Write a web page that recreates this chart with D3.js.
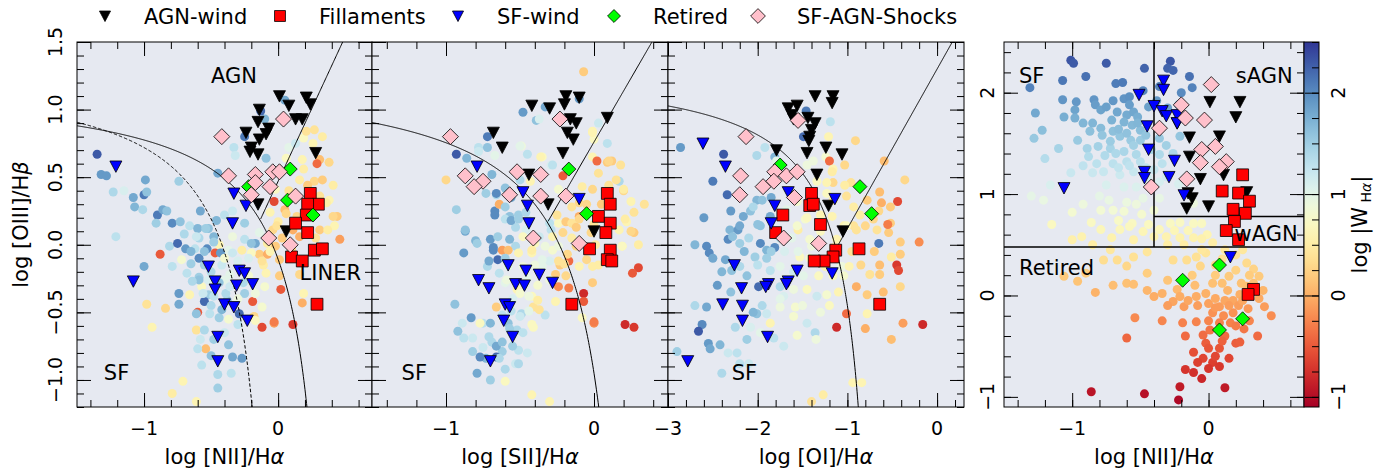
<!DOCTYPE html>
<html>
<head>
<meta charset="utf-8">
<script src="https://cdn.jsdelivr.net/npm/d3@7"></script>
<style>
  body { margin: 0; background: #ffffff; }
  svg text { font-family: "DejaVu Sans", sans-serif; fill: #000; }
</style>
</head>
<body>
<div id="chart"></div>
<script>
// ---- data: [x, y, log W_Ha] for the background spaxels ----
const niiCircles = [
  [-1.35,0.67,2.3],[-1.32,0.52,1.9],[-1.28,0.51,1.9],[-1.23,0.39,1.4],[-1.15,0.40,1.1],
  [-1.08,0.35,1.8],[-1.00,0.37,2.1],[-0.99,0.48,1.8],[-0.98,0.39,1.6],[-1.07,0.28,1.7],
  [-1.01,0.26,1.4],[-0.90,0.22,2.1],[-0.86,0.26,1.8],[-0.83,0.25,1.6],[-0.74,0.47,1.5],
  [-0.58,0.25,1.8],[-0.45,0.53,1.8],[-0.91,0.16,1.5],[-0.79,0.16,2.0],[-0.73,0.17,1.6],
  [-0.66,0.14,1.3],[-0.60,0.12,1.7],[-0.52,0.12,1.6],[-0.44,0.00,0.6],[-0.34,0.25,1.2],
  [-0.25,0.16,1.5],[-0.33,0.72,1.3],[-0.32,0.66,1.2],[-0.10,0.93,1.7],[-0.09,0.64,1.6],
  [-0.13,0.99,2.2],[0.05,1.07,1.8],[-0.25,0.80,2.1],[0.08,0.72,1.0],[0.13,0.75,1.2],
  [0.19,0.79,0.7],[0.21,0.84,0.4],[0.27,0.85,0.4],[0.33,0.80,0.5],[0.26,0.75,0.6],
  [0.31,0.63,0.1],[0.29,0.60,-0.4],[0.38,0.61,0.3],[0.06,0.64,0.7],[0.19,0.56,0.5],
  [0.27,0.47,0.3],[0.33,0.48,0.2],[0.41,0.44,0.5],[0.31,0.36,0.4],[0.38,0.33,0.6],
  [0.44,0.21,0.2],[0.42,0.14,0.6],[0.46,0.04,-0.1],[-0.03,0.32,-0.6],[0.05,0.26,0.1],
  [0.14,0.21,0.3],[0.00,0.17,0.5],[-0.04,0.11,0.3],[0.03,0.05,0.2],[0.11,0.11,0.0],
  [0.31,0.11,0.2],[0.28,0.05,0.4],[-0.14,0.09,1.0],[-0.08,0.01,0.5],[0.16,0.48,0.5],
  [-0.02,0.41,0.7],[0.06,0.23,0.3],[0.36,0.31,0.5],[0.41,0.21,0.3],[0.37,0.11,0.5],
  [0.16,0.06,0.0],[-0.01,0.14,0.4],[-0.02,-0.01,0.2],[0.01,-0.11,0.2],[0.16,-0.22,0.3],
  [0.19,-0.36,0.6],[0.18,0.63,0.6],[-1.21,0.06,1.3],[-0.88,-0.07,-0.5],[-0.81,-0.01,1.4],
  [-0.75,0.01,2.2],[-0.69,-0.03,1.9],[-0.59,0.05,1.4],[-0.53,-0.03,2.0],[-0.37,-0.04,1.0],
  [-0.17,0.01,1.8],[-0.14,-0.07,0.2],[-0.08,-0.07,0.0],[-1.00,-0.16,1.8],[-0.79,-0.16,1.3],
  [-0.72,-0.11,0.8],[-0.65,-0.14,1.5],[-0.59,-0.10,2.0],[-0.47,-0.06,-0.5],[-0.68,-0.21,1.3],
  [-0.59,-0.24,1.5],[-0.57,-0.31,0.7],[-0.74,-0.36,1.9],[-0.66,-0.37,0.6],[-0.52,-0.37,1.5],
  [-0.98,-0.44,0.4],[-0.84,-0.47,0.3],[-0.60,-0.50,-0.5],[-0.74,-0.44,1.8],[-0.55,-0.42,2.2],
  [-0.50,-0.45,1.4],[-0.38,-0.41,1.6],[-0.29,-0.51,2.2],[-0.19,-0.42,-0.5],[-0.18,-0.53,0.3],
  [-0.12,-0.61,-0.6],[-0.03,-0.58,-0.1],[-0.12,-0.46,0.8],[0.11,-0.59,-0.7],[0.18,-0.43,0.0],
  [-0.94,-0.61,0.6],[-0.61,-0.63,0.4],[-0.55,-0.63,1.4],[-0.58,-0.70,1.2],[-0.54,-0.77,0.1],
  [-0.60,-0.77,1.3],[-0.37,-0.74,1.6],[-0.34,-0.83,1.8],[-0.27,-0.84,1.9],[-0.57,-0.89,1.3],
  [-0.45,-0.96,1.4],[-0.71,-1.01,0.6],[-0.79,-1.10,0.5],[-0.61,-1.16,0.6],[-0.43,-0.06,1.9],
  [-0.54,0.12,1.5],[-0.61,0.06,1.2],[-0.48,0.06,1.7],[-0.34,0.06,0.9],[-0.25,0.04,1.3],
  [-0.20,0.01,1.6],[-0.34,-0.06,1.2],[-0.27,-0.04,0.5],[-0.20,-0.06,0.7],[-0.06,-0.05,0.6],
  [-0.09,-0.21,0.6],[-0.11,-0.15,0.5],[0.01,-0.23,0.2],[0.02,-0.33,-0.5],[-0.59,-0.26,1.6],
  [-0.52,-0.26,1.1],[-0.56,-0.36,1.2],[-0.39,-0.36,1.4],[-0.25,-0.36,1.5],[-0.17,-0.36,0.9],
  [-0.61,-0.51,1.6],[-0.51,-0.51,1.3],[-0.44,-0.54,1.5],[-0.37,-0.55,0.8],[-0.30,-0.59,1.3],
  [-0.17,-0.56,0.7],[-0.03,-0.57,-0.3],[-0.10,-0.31,0.8],[-0.22,-0.23,0.8],[-0.12,-0.12,0.4],
  [-0.40,-0.26,1.0],[-0.64,-0.27,1.4],[-0.50,-0.20,1.4],[-0.42,-0.15,1.2],[-0.36,-0.22,1.0],
  [-0.44,-0.28,1.6],[-0.40,-0.10,0.8],[-0.30,-0.12,1.1],[-0.55,-0.05,1.6],[-0.62,-0.03,1.3],
  [-0.48,0.02,1.5],[-0.55,-0.15,1.5],[-0.48,-0.38,1.3],[-0.42,-0.48,1.7],[-0.36,-0.31,1.2],
  [-0.30,-0.40,0.9],[-0.26,-0.28,1.4],[-0.22,-0.10,1.1],[-0.65,-0.05,1.7],[-0.70,0.08,1.4],
  [-0.46,0.18,1.7],[-0.40,0.22,1.3],[-0.48,-0.70,1.5],[-0.40,-0.65,1.2],[-0.50,-0.82,1.6],
  [-0.35,-0.95,1.3],[-0.45,-1.06,1.5],[0.08,0.40,0.4],[0.22,0.44,0.2],[0.10,-0.03,0.3],
  [-0.06,0.24,0.6]
];

const siiCircles = [
  [-0.07,1.28,0.2],[-0.48,0.98,1.9],[-0.39,0.92,1.6],[-0.37,0.93,1.1],[-0.33,1.02,1.8],
  [-0.10,1.08,1.9],[0.03,0.90,1.2],[-0.01,0.84,0.6],[0.00,0.78,0.7],[0.09,0.75,1.3],
  [-0.01,0.65,0.6],[0.02,0.62,-0.4],[0.09,0.61,0.2],[0.12,0.62,0.2],[0.03,0.53,0.4],
  [0.17,0.47,1.4],[0.20,0.40,0.3],[0.25,0.32,0.6],[0.34,0.30,0.4],[0.27,0.24,0.4],
  [0.22,0.17,0.6],[0.27,0.09,0.2],[0.19,-0.01,0.6],[0.03,-0.15,0.5],[0.30,-0.17,-0.6],
  [0.26,-0.21,-0.5],[-0.12,-0.01,0.3],[-0.17,-0.12,-0.4],[-0.23,-0.15,0.2],[-0.07,-0.36,-0.8],
  [-0.07,-0.42,-0.5],[-0.17,-0.32,-0.3],[-0.24,-0.31,-0.2],[-0.26,-0.42,0.6],[0.00,-0.58,-0.2],
  [-0.08,-0.54,0.7],[0.21,-0.59,-0.8],[0.27,-0.61,-0.7],[-1.00,0.48,0.3],[-0.93,0.26,1.5],
  [-0.87,0.10,1.8],[-0.88,-0.06,1.9],[-0.93,0.67,2.3],[-0.72,0.80,2.1],[-0.86,0.64,1.7],
  [-0.78,0.72,1.3],[-0.66,0.37,1.4],[-0.73,0.38,1.5],[-0.67,0.25,2.0],[-0.80,0.03,1.7],
  [-0.70,0.04,1.9],[-0.68,-0.04,2.0],[-0.72,-0.16,1.4],[-0.65,-0.11,2.2],[-0.94,-0.44,1.6],
  [-0.83,-0.54,1.9],[-0.89,-0.58,1.2],[-0.82,-0.69,1.2],[-0.75,-0.58,1.3],[-0.77,-0.58,0.7],
  [-0.79,-0.95,1.8],[-0.60,-1.01,0.7],[-0.42,-1.11,0.6],[-0.30,-1.16,0.6],[-0.69,-0.72,1.4],
  [-0.62,-0.79,1.5],[-0.52,-0.63,1.4],[-0.51,-0.78,1.3],[-0.53,-0.88,1.2],[-0.73,-0.84,1.7],
  [-0.66,-0.83,2.2],[-0.41,-0.61,0.7],[-0.33,-0.52,1.3],[-0.30,-0.12,1.1],[-0.35,-0.11,1.0],
  [-0.28,-0.04,0.8],[-0.29,0.11,1.3],[-0.24,0.16,0.7],[-0.21,0.09,0.3],[-0.19,0.17,0.2],
  [-0.15,0.16,0.4],[-0.10,0.21,0.0],[-0.12,0.13,0.2],[-0.21,0.51,-0.5],[-0.24,0.41,0.8],
  [-0.10,0.31,0.3],[-0.35,0.65,0.7],[-0.29,0.59,1.1],[-0.49,0.73,0.9],[-0.43,0.47,0.6],
  [-0.50,0.48,1.4],[-0.60,0.42,1.6],[-0.56,0.35,1.8],[-0.64,0.30,0.0],[-0.57,0.21,1.6],
  [-0.51,0.22,1.5],[-0.53,0.13,1.4],[-0.46,0.11,1.1],[-0.44,0.18,1.2],[-0.40,0.01,0.7],
  [-0.42,-0.06,0.6],[-0.33,-0.01,0.9],[-0.53,-0.01,1.4],[-0.62,-0.04,-0.1],[-0.58,-0.16,1.0],
  [-0.48,-0.16,0.9],[-0.60,-0.28,1.0],[-0.52,-0.33,0.6],[-0.42,-0.38,0.7],[-0.38,-0.30,0.8],
  [-0.66,-0.46,0.2],[-0.56,-0.49,1.3],[-0.49,-0.51,1.4],[-0.58,-0.58,1.6],[-0.41,-0.46,0.4],
  [-0.01,0.83,0.6],[0.10,0.62,0.3],[0.18,0.59,0.4],[0.15,0.48,0.4],[0.20,0.41,0.5],
  [-0.01,0.41,0.3],[-0.08,0.43,0.5],[-0.15,0.28,0.4],[-0.10,0.19,0.3],[-0.02,0.09,0.3],
  [0.01,0.00,0.5],[0.17,0.11,0.6],[0.21,0.19,0.5],[0.19,-0.01,0.7],[-0.18,-0.07,0.3],
  [-0.24,-0.12,0.4],[-0.20,-0.14,0.4],[-0.26,-0.22,0.2],[-0.19,-0.23,0.3],[-0.10,-0.16,0.6],
  [-0.01,-0.16,0.5],[-0.05,-0.11,0.3],[-0.01,-0.28,0.2],[0.00,-0.57,-0.3],[-0.30,-0.26,0.9],
  [-0.35,-0.16,1.0],[-0.42,-0.04,0.5],[-0.37,0.06,1.2],[-0.28,0.06,0.6],[-0.24,-0.01,0.9],
  [-0.48,0.06,0.7],[-0.51,-0.06,0.6],[-0.57,0.04,1.7],[-0.65,0.06,1.5],[-0.68,-0.02,2.0],
  [-0.58,-0.04,0.1],[-0.71,-0.12,1.8],[-0.64,-0.21,1.3],[-0.59,-0.26,0.9],[-0.50,-0.36,0.8],
  [-0.44,-0.38,0.9],[-0.38,-0.41,0.5],[-0.37,-0.48,0.4],[-0.44,-0.49,1.0],[-0.50,-0.53,1.2],
  [-0.57,-0.62,1.5],[-0.48,-0.65,1.3],[-0.42,-0.59,0.7],[-0.71,-0.68,1.4],[-0.66,-0.75,1.8],
  [-0.62,-0.72,1.6],[-0.75,-0.76,1.2],[-0.82,-0.79,1.5],[-0.77,-0.83,2.0],[-0.64,-0.84,1.4],
  [-0.51,-0.88,1.4],[-0.88,-0.69,1.3],[-0.92,-0.64,1.6],[-0.78,0.69,1.2],[-0.72,0.72,1.6],
  [-0.67,0.66,1.0],[-0.50,0.73,1.0],[-0.45,0.67,1.3],[-0.36,0.65,0.6],[-0.28,0.59,1.3],
  [-0.69,0.52,1.7],[-0.66,0.38,2.0],[-0.60,0.28,1.5],[-0.67,0.22,2.0],[-0.60,0.19,1.3],
  [-0.56,0.18,1.8],[-0.51,0.19,1.5],[-0.46,0.24,1.4],[-0.25,0.22,0.4],[-0.30,0.16,1.3],
  [-0.87,0.11,1.6],[-0.79,0.01,1.5],[-0.55,-0.40,1.1],[-0.60,-0.10,1.5],[-0.45,-0.25,1.0],
  [-0.40,-0.15,0.9],[-0.62,-0.52,1.3],[-0.70,-0.58,1.7],[-0.55,-0.75,1.5],[-0.45,-0.80,1.2],
  [-0.60,-0.92,1.4],[-0.70,-1.00,1.5],[-0.05,0.30,0.3],[0.05,0.30,0.2],[0.10,0.44,0.4],
  [0.25,0.10,0.3],[0.30,0.00,0.5],[0.00,0.15,0.4],[-0.15,0.05,0.5]
];

const oiCircles = [
  [-2.86,0.72,1.9],[-2.38,0.67,2.3],[-2.50,0.47,2.1],[-2.34,0.37,2.2],[-2.01,0.66,1.4],
  [-1.92,0.72,1.3],[-1.81,0.65,1.7],[-1.79,0.62,1.0],[-1.46,0.99,2.1],[-1.19,0.91,1.3],
  [-1.49,0.80,2.2],[-1.21,0.80,0.6],[-0.91,0.77,0.3],[-1.24,0.65,0.8],[-1.20,0.62,-0.4],
  [-1.03,0.59,0.3],[-1.16,0.56,0.6],[-1.34,0.47,0.7],[-1.16,0.46,0.3],[-0.96,0.46,0.4],
  [-0.59,0.62,0.1],[-0.36,0.48,0.3],[-0.44,0.32,-0.6],[-0.64,0.39,0.1],[-0.62,0.31,0.0],
  [-0.52,0.28,0.2],[-0.78,0.33,0.2],[-0.65,0.25,0.3],[-0.86,0.22,0.5],[-0.71,0.19,0.3],
  [-0.52,0.16,0.2],[-0.67,0.11,0.4],[-0.54,0.09,0.2],[-0.93,0.14,0.4],[-1.04,0.14,0.6],
  [-0.65,0.01,2.1],[-0.41,0.02,0.2],[-0.20,0.02,-0.2],[-0.51,-0.09,0.5],[-0.41,-0.07,0.2],
  [-0.45,-0.15,-0.7],[-0.43,-0.19,-0.6],[-0.64,-0.15,0.1],[-0.75,-0.22,0.4],[-0.64,-0.22,0.2],
  [-0.41,-0.31,0.3],[-0.90,-0.31,0.0],[-0.78,-0.37,0.2],[-0.78,-0.51,0.6],[-1.01,-0.51,-0.4],
  [-0.38,-0.58,-0.1],[-0.16,-0.59,-0.8],[-1.12,-0.61,-0.8],[-0.80,-0.62,0.0],[-0.51,-0.70,0.1],
  [-0.84,-1.02,0.6],[-0.94,-1.02,0.6],[-1.27,-1.11,0.5],[-1.40,-1.16,0.4],[-1.56,-0.67,0.8],
  [-1.36,-0.65,1.4],[-1.45,-0.58,1.2],[-1.60,-0.53,0.8],[-1.16,-0.23,0.7],[-1.04,-0.23,0.8],
  [-1.25,-0.16,0.6],[-1.08,-0.16,1.0],[-1.21,-0.10,0.5],[-1.42,-0.10,0.8],[-1.53,-0.09,0.7],
  [-1.40,-0.01,0.9],[-1.55,0.11,0.5],[-1.47,0.19,0.8],[-1.30,0.22,0.6],[-1.42,0.33,0.9],
  [-1.16,0.33,0.5],[-1.23,0.38,0.7],[-1.56,0.32,0.8],[-1.68,0.26,1.0],[-2.01,0.33,1.7],
  [-2.08,0.25,1.6],[-2.16,0.21,1.8],[-2.31,0.11,1.7],[-2.22,0.11,1.9],[-2.33,0.04,2.0],
  [-2.20,0.01,1.5],[-1.97,0.14,1.6],[-1.86,0.21,1.8],[-1.97,0.01,2.0],[-1.90,-0.04,1.7],
  [-2.03,-0.09,1.5],[-1.81,-0.02,2.0],[-2.57,-0.01,2.0],[-2.54,-0.06,2.0],[-2.36,-0.11,1.8],
  [-2.29,-0.19,1.6],[-2.20,-0.16,1.4],[-2.12,-0.23,1.6],[-1.99,-0.31,2.2],[-1.86,-0.19,1.3],
  [-1.75,-0.16,1.0],[-1.75,-0.31,1.4],[-2.70,-0.45,1.4],[-2.57,-0.46,1.8],[-2.62,-0.59,2.0],
  [-2.66,-0.64,2.3],[-2.55,-0.73,1.9],[-2.42,-0.74,1.7],[-2.53,-0.77,1.8],[-2.90,-0.79,1.5],
  [-2.40,-0.95,1.4],[-2.33,-0.80,1.2],[-2.23,-0.80,1.3],[-2.12,-0.70,1.5],[-2.25,-0.61,1.4],
  [-2.08,-0.61,1.1],[-1.86,-0.58,0.6],[-1.97,-0.65,1.0],[-1.82,-0.69,1.3],[-1.71,-0.75,1.2],
  [-2.20,-0.88,1.3],[-2.10,-0.88,1.2],[-2.01,-0.51,1.6],[-1.90,-0.51,1.2],[-1.75,-0.46,0.9],
  [-1.58,-0.46,0.8],[-1.71,-0.38,1.1],[-1.60,-0.33,0.9],[-1.45,-0.33,0.7],[-1.34,-0.38,1.2],
  [-1.23,-0.37,0.8],[-1.49,-0.23,1.0],[-1.32,-0.23,0.7],[-2.05,0.28,1.4],[-1.95,0.33,1.6],
  [-1.45,0.59,0.9],[-1.38,0.62,0.9],[-1.17,0.54,0.5],[-1.23,0.46,0.6],[-1.03,0.44,0.5],
  [-1.01,0.36,0.4],[-0.93,0.28,0.5],[-1.17,0.21,0.6],[-1.45,0.20,0.7],[-1.56,0.14,0.8],
  [-1.01,0.14,0.7],[-0.90,0.11,0.4],[-0.80,0.14,0.3],[-1.42,0.04,0.8],[-1.12,0.04,0.6],
  [-1.06,-0.16,0.9],[-0.98,-0.16,0.6],[-2.20,0.14,1.8],[-2.28,0.06,1.6],[-2.10,0.05,1.4],
  [-2.00,-0.15,1.3],[-1.90,-0.10,1.5],[-1.70,-0.05,1.1],[-1.62,0.05,1.0],[-1.60,-0.20,1.2],
  [-1.75,-0.40,1.0],[-1.50,-0.45,0.9],[-1.95,-0.45,1.4],[-2.05,-0.50,1.7],[-2.30,-0.35,1.6],
  [-2.45,-0.30,1.9],[-2.40,-0.20,1.7],[-2.50,-0.10,1.8],[-1.30,-0.50,0.9],[-1.20,-0.45,0.7],
  [-1.10,-0.35,0.6],[-1.35,-0.70,0.9],[-1.85,-0.05,1.5],[-2.15,-0.05,1.7],[-2.00,0.15,1.6],
  [-1.75,0.05,1.3],[-1.85,0.35,1.8],[-2.30,0.25,1.9],[-2.60,0.20,1.9],[-2.70,0.00,1.7],
  [-1.15,-0.02,0.5],[-0.95,-0.05,0.4],[-0.85,-0.15,0.3],[-0.70,-0.05,0.2],[-0.60,-0.35,0.1],
  [-0.55,0.15,-0.3],[-1.30,0.10,0.7],[-1.55,-0.05,1.0]
];

// WHAN panel: [log NII/Ha, log W_Ha]; the colour is W_Ha itself
const whanCircles = [
  [-1.01,2.32],[-0.99,2.29],[-0.75,2.29],[-1.31,2.05],[-1.07,2.12],[-0.90,2.16],[-0.68,2.09],
  [-0.63,2.10],[-0.47,2.24],[-0.28,2.31],[-0.30,2.24],[-0.26,2.22],[-0.14,2.16],[-1.07,1.93],
  [-0.97,1.91],[-0.84,1.93],[-0.62,1.94],[-0.58,1.96],[-0.20,2.00],[-1.27,1.80],[-1.06,1.76],
  [-0.98,1.83],[-0.83,1.88],[-0.79,1.83],[-0.75,1.86],[-0.67,1.81],[-0.60,1.78],[-0.55,1.81],
  [-0.52,1.76],[-1.22,1.63],[-0.98,1.75],[-0.79,1.65],[-0.71,1.73],[-0.62,1.71],[-0.56,1.68],
  [-0.50,1.63],[-0.70,1.62],[-0.96,1.53],[-0.87,1.62],[-0.65,1.57],[-0.57,1.53],[-0.50,1.53],
  [-0.55,1.48],[-0.36,1.55],[-0.31,1.48],[-0.21,1.57],[-0.89,1.45],[-0.81,1.47],[-0.72,1.45],
  [-0.62,1.42],[-0.53,1.39],[-0.42,1.44],[-0.36,1.39],[-0.26,1.40],[-1.20,1.35],[-0.88,1.37],
  [-0.76,1.38],[-0.70,1.30],[-0.60,1.32],[-0.34,1.30],[-0.40,1.24],[-1.01,1.21],[-0.85,1.21],
  [-0.77,1.22],[-0.65,1.19],[-0.55,1.22],[-0.45,1.17],[-0.31,1.17],[-1.16,1.09],[-1.05,1.10],
  [-0.75,1.09],[-0.62,1.07],[-0.53,1.07],[-0.36,1.12],[-0.22,1.10],[-1.21,0.94],[-0.80,0.98],
  [-0.73,0.94],[-0.60,0.92],[-0.48,0.96],[-0.53,0.90],[-0.36,0.96],[-0.11,0.91],[-0.79,0.84],
  [-0.70,0.84],[-0.62,0.83],[-0.49,0.80],[-0.40,0.84],[-0.56,0.71],[-0.28,0.71],[-0.21,0.72],
  [-0.11,0.71],[-0.05,0.71],[-0.79,0.65],[-0.71,0.57],[-0.65,0.65],[-0.93,0.58],[-0.58,0.68],
  [-0.48,0.63],[-0.36,0.65],[-0.31,0.58],[-0.21,0.57],[-0.11,0.57],[-0.01,0.60],[0.03,0.52],
  [-0.72,0.45],[-0.77,0.35],[-0.67,0.35],[-0.55,0.38],[-0.60,0.29],[-0.45,0.43],[-0.26,0.35],
  [-0.16,0.35],[-0.09,0.38],[-0.02,0.42],[-0.06,0.29],[-1.06,0.19],[-0.96,0.14],[-0.83,0.03],
  [-0.60,0.12],[-0.55,0.11],[-0.40,-0.01],[-0.34,0.02],[-0.23,0.06],[-0.21,-0.01],[-0.09,-0.01],
  [-0.02,0.02],[0.03,0.12],[0.15,0.19],[0.28,0.32],[0.33,0.26],[0.37,0.19],[0.28,0.09],
  [0.23,0.01],[0.18,-0.05],[0.08,-0.11],[0.00,-0.08],[0.03,-0.17],[0.11,-0.20],[0.18,-0.17],
  [0.16,-0.27],[0.08,-0.27],[0.01,-0.34],[-0.04,-0.39],[-0.02,-0.47],[0.08,-0.52],[0.20,-0.47],
  [0.23,-0.46],[0.46,-0.20],[0.41,-0.11],[0.37,-0.03],[-0.26,-0.06],[-0.18,-0.11],[-0.08,-0.10],
  [-0.54,-0.22],[-0.34,-0.25],[-0.19,-0.27],[-0.09,-0.26],[-0.17,-0.40],[-0.60,-0.42],[-0.11,-0.56],
  [-0.04,-0.62],[0.03,-0.66],[0.08,-0.70],[-0.17,-0.73],[-0.11,-0.76],[-0.21,-0.90],[0.12,-0.91],
  [-0.47,-0.97],[-0.86,-0.95],[-0.22,-1.03],[0.10,0.36],[0.20,0.40],[0.25,0.45],[0.12,0.45],
  [-0.05,0.45],[0.05,0.30],[0.14,0.05],[0.22,-0.10],[0.29,-0.13],[0.05,-0.03],[-0.12,0.20],
  [-0.30,0.15],[-0.45,0.22],[0.33,0.12],[0.40,0.05],[0.26,-0.33],[0.12,-0.40],[0.15,-0.62],
  [-0.05,-0.82],[0.00,-0.52],[-0.85,1.70],[-0.78,1.58],[-0.72,1.52],[-0.66,1.64],[-0.60,1.60],
  [-0.52,1.70],[-0.46,1.58],[-0.44,1.86],[-0.48,2.02],[-0.38,1.92],[-0.58,1.88],[-0.70,1.92],
  [-0.92,1.70],[-0.82,1.30],[-0.68,1.40],[-0.58,1.28],[-0.50,1.32],[-0.46,1.26],[-0.66,1.26],
  [-0.92,1.28],[-1.10,1.45],[-1.28,1.55],[-0.30,1.85],[-0.22,1.88],[-0.12,2.05],[-0.36,2.06],
  [-1.00,0.82],[-0.92,0.90],[-0.86,0.72],[-0.66,0.74],[-0.44,0.70],[-0.40,0.58],[-0.30,0.50],
  [-0.18,0.50],[-0.25,0.64],[-0.15,0.64],[-0.05,0.56],[-0.55,0.55],[-0.85,0.50],[-1.00,0.55],
  [-1.15,0.70],[-1.30,0.98],[0.05,0.20],[0.10,0.12],[0.20,0.25],[0.30,0.20],[0.24,0.12],
  [0.35,0.05],[0.12,-0.05],[0.05,-0.12],[0.15,-0.10],[0.25,-0.05],[0.30,-0.25],[0.20,-0.30],
  [0.10,-0.45],[0.00,-0.25],[-0.10,0.10],[-0.15,-0.05],[-0.30,-0.10],[-0.45,0.05],[-0.70,0.10],
  [-0.90,0.22],[0.36,-0.40],[0.05,-0.60],[0.00,-0.72],[-0.08,-0.66]
];

// ---- highlighted spaxel classes, one array per class and diagram ----
const niiAgnWind = [[0.01,1.10],[0.08,1.03],[0.21,1.09],[0.24,1.04],[-0.14,1.00],[0.13,0.93],[0.18,0.93],[-0.15,0.91],[-0.07,0.86],[-0.09,0.82],[-0.24,0.83],[-0.14,0.78],[-0.20,0.72],[-0.15,0.67],[-0.21,0.69],[0.28,0.68],[-0.15,0.30],[0.06,0.10]];
const niiFillaments = [[0.24,0.38],[0.30,0.30],[0.22,0.30],[0.21,0.22],[0.13,0.16],[0.22,0.09],[0.27,-0.04],[0.33,-0.03],[0.10,-0.09],[0.18,-0.12],[0.29,-0.44]];
const niiSfWind = [[-1.21,0.58],[-1.08,-0.27],[-0.33,0.38],[-0.24,0.29],[-0.34,0.16],[-0.52,-0.16],[-0.47,-0.27],[-0.47,-0.33],[-0.29,-0.19],[-0.25,-0.21],[-0.31,-0.30],[-0.19,-0.29],[-0.40,-0.44],[-0.33,-0.46],[-0.23,-0.56],[-0.45,-0.68],[-0.45,-0.86]];
const niiRetired = [[0.09,0.56],[-0.22,0.43],[0.07,0.33],[0.26,0.22]];
const niiShocks = [[0.04,0.93],[-0.42,0.80],[-0.37,0.51],[-0.17,0.52],[-0.04,0.54],[0.01,0.54],[-0.06,0.43],[-0.17,0.46],[-0.20,0.37],[0.13,0.36],[-0.07,0.05],[0.09,0.00]];

const siiAgnWind = [[-0.42,1.03],[-0.30,1.01],[-0.19,1.10],[-0.10,1.09],[-0.20,1.04],[-0.16,0.93],[-0.12,0.90],[-0.18,0.83],[-0.14,0.78],[0.09,0.94],[-0.68,0.83],[-0.62,0.72],[-0.21,0.68],[-0.44,0.52],[-0.31,0.30],[0.00,0.10]];
const siiFillaments = [[0.09,0.38],[0.11,0.30],[0.03,0.21],[0.11,0.16],[0.08,0.09],[-0.03,-0.03],[0.11,-0.04],[0.09,-0.11],[0.12,-0.12],[-0.15,-0.44]];
const siiSfWind = [[-0.79,0.58],[-0.48,0.39],[-0.45,0.29],[-0.10,0.34],[-0.44,0.16],[-0.58,-0.15],[-0.46,-0.19],[-0.37,-0.22],[-0.28,-0.28],[-0.78,-0.26],[-0.71,-0.32],[-0.53,-0.29],[-0.47,-0.30],[-0.60,-0.44],[-0.57,-0.46],[-0.61,-0.56],[-0.55,-0.68],[-0.70,-0.86]];
const siiRetired = [[-0.17,0.56],[-0.05,0.23]];
const siiShocks = [[-0.97,0.80],[-0.23,0.93],[-0.87,0.51],[-0.75,0.47],[-0.81,0.43],[-0.52,0.54],[-0.36,0.52],[-0.57,0.37],[-0.36,0.36],[-0.19,0.36],[-0.41,0.05],[-0.10,0.01]];

const oiAgnWind = [[-1.36,1.10],[-1.16,1.10],[-1.17,1.05],[-1.66,1.01],[-1.56,1.03],[-1.62,0.96],[-1.60,0.93],[-1.44,0.94],[-1.36,0.90],[-1.40,0.85],[-1.42,0.80],[-1.43,0.77],[-1.79,0.70],[-1.45,0.68],[-1.24,0.72],[-1.06,0.67],[-1.34,0.52],[-1.21,0.29],[-1.05,0.10]];
const oiFillaments = [[-1.40,0.38],[-1.42,0.29],[-1.38,0.30],[-1.72,0.22],[-1.30,0.15],[-1.80,0.09],[-1.13,-0.04],[-1.16,-0.09],[-1.26,-0.12],[-1.37,-0.12],[-0.87,-0.03],[-0.64,-0.44]];
const oiSfWind = [[-2.61,0.75],[-2.36,0.58],[-1.14,0.34],[-1.81,0.29],[-1.85,0.16],[-1.66,0.39],[-2.26,-0.15],[-1.56,-0.19],[-1.17,-0.21],[-2.18,-0.32],[-1.88,-0.29],[-1.91,-0.31],[-1.66,-0.27],[-1.68,-0.29],[-2.39,-0.44],[-2.17,-0.45],[-2.17,-0.56],[-1.89,-0.68],[-2.78,-0.86]];
const oiRetired = [[-0.86,0.43],[-0.73,0.23],[-1.75,0.59]];
const oiShocks = [[-1.55,0.92],[-2.13,0.80],[-2.19,0.51],[-2.20,0.37],[-1.81,0.54],[-1.68,0.51],[-1.56,0.54],[-1.94,0.43],[-1.82,0.47],[-1.59,0.35],[-1.71,0.05],[-1.32,0.01]];

const whanAgnWind = [[0.01,1.91],[0.23,1.91],[0.20,1.76],[0.08,1.57],[-0.14,1.56],[-0.14,1.37],[-0.06,1.15],[0.11,1.19],[-0.15,1.01],[-0.12,0.96],[-0.16,0.86],[0.00,0.88],[0.28,1.02],[-0.23,1.70]];
const whanFillaments = [[0.25,1.19],[0.10,1.03],[0.22,1.01],[0.30,0.93],[0.18,0.85],[0.27,0.81],[0.19,0.73],[0.13,0.64],[0.22,0.55],[0.33,0.06],[0.29,0.01]];
const whanSfWind = [[-0.33,2.12],[-0.33,2.03],[-0.51,1.98],[-0.40,1.87],[-0.34,1.82],[-0.31,1.77],[-0.23,1.78],[-0.23,1.70],[-0.45,1.67],[-0.44,1.44],[-0.25,1.33],[-0.29,1.17],[-0.47,1.22],[-0.47,1.16],[-0.18,0.99],[0.16,0.38],[-1.06,1.06]];
const whanRetired = [[0.08,0.30],[-0.19,0.15],[0.25,-0.23],[0.08,-0.34]];
const whanShocks = [[0.02,2.08],[-0.20,1.88],[-0.17,1.75],[-0.03,1.73],[-0.36,1.65],[0.05,1.47],[-0.05,1.44],[-0.06,1.31],[0.13,1.32],[0.08,1.27],[-0.16,1.15],[-0.42,1.07]];

const classNames = ["AGN-wind", "Fillaments", "SF-wind", "Retired", "SF-AGN-Shocks"];
const wRange = [-1.1, 2.5];     // colour bar limits, log |W_Ha|
const whanCbTicks = [-1, 0, 1, 2];

// ---- layout ----
const width = 1390, height = 472;
const plotTop = 42, plotBottom = 407;
const bgColor = "#e6e9f1";
const colour = v => d3.interpolateRdYlBu((v - wRange[0]) / (wRange[1] - wRange[0]));

// matplotlib-like markers
const triDown = {
  draw(ctx, size) {
    const r = Math.sqrt(size) / 2;
    ctx.moveTo(0, r); ctx.lineTo(-r, -r * 0.9); ctx.lineTo(r, -r * 0.9); ctx.closePath();
  }
};
const diamond = {
  draw(ctx, size) {
    const r = Math.sqrt(size) / 2;
    ctx.moveTo(0, -r); ctx.lineTo(r, 0); ctx.lineTo(0, r); ctx.lineTo(-r, 0); ctx.closePath();
  }
};
const markerStyles = [
  {type: triDown, size: 144, fill: "#000000"},
  {type: d3.symbolSquare, size: 140, fill: "#ff0000"},
  {type: triDown, size: 144, fill: "#0000ff"},
  {type: diamond, size: 196, fill: "#00ff00"},
  {type: diamond, size: 256, fill: "#ffc0cb"}
];

const stepTicks = (domain, step) =>
  d3.range(Math.ceil(domain[0] / step - 1e-9), Math.floor(domain[1] / step + 1e-9) + 1)
    .map(k => +(k * step).toFixed(4));

const bptY = [-1.2, 1.5];
const panels = [
  {id: "nii", left: 77, right: 372, xDomain: [-1.5, 0.7], yDomain: bptY,
   xMajor: [-1, 0], xMinor: 0.2, yMajor: 0.5, yMinor: 0.1,
   circles: niiCircles, groups: [niiAgnWind, niiFillaments, niiSfWind, niiRetired, niiShocks],
   xLabel: ["log [NII]/H", "α"], yLabels: true,
   curves: [
     {f: x => 0.61 / (x - 0.47) + 1.19, from: -1.5, to: 0.46},
     {f: x => 0.61 / (x - 0.05) + 1.30, from: -1.5, to: 0.04, dash: "3.5,2"},
     {f: x => 2.14 * x + 0.47, from: -0.13, to: 0.7}
   ],
   notes: [["AGN", -0.5, 1.2], ["LINER", 0.16, -0.26], ["SF", -1.3, -1.0]]},
  {id: "sii", left: 372, right: 668, xDomain: [-1.5, 0.5], yDomain: bptY,
   xMajor: [-1, 0], xMinor: 0.2, yMajor: 0.5, yMinor: 0.1,
   circles: siiCircles, groups: [siiAgnWind, siiFillaments, siiSfWind, siiRetired, siiShocks],
   xLabel: ["log [SII]/H", "α"],
   curves: [
     {f: x => 0.72 / (x - 0.32) + 1.30, from: -1.5, to: 0.31},
     {f: x => 1.89 * x + 0.76, from: -0.31, to: 0.5}
   ],
   notes: [["SF", -1.3, -1.0]]},
  {id: "oi", left: 668, right: 964, xDomain: [-3, 0.3], yDomain: bptY,
   xMajor: [-3, -2, -1, 0], xMinor: 0.2, yMajor: 0.5, yMinor: 0.1,
   circles: oiCircles, groups: [oiAgnWind, oiFillaments, oiSfWind, oiRetired, oiShocks],
   xLabel: ["log [OI]/H", "α"],
   curves: [
     {f: x => 0.73 / (x + 0.59) + 1.33, from: -3, to: -0.6},
     {f: x => 1.18 * x + 1.30, from: -1.13, to: 0.3}
   ],
   notes: [["SF", -2.29, -1.0]]},
  {id: "whan", left: 1004, right: 1304, xDomain: [-1.5, 0.7], yDomain: [-1.1, 2.5],
   xMajor: [-1, 0], xMinor: 0.2, yMajor: 1, yMinor: 0.2,
   circles: whanCircles.map(d => [d[0], d[1], d[1]]),
   groups: [whanAgnWind, whanFillaments, whanSfWind, whanRetired, whanShocks],
   xLabel: ["log [NII]/H", "α"], whan: true, curves: [],
   notes: [["SF", -1.39, 2.1], ["sAGN", 0.2, 2.1], ["wAGN", 0.19, 0.54], ["Retired", -1.39, 0.2]]}
];

const svg = d3.select("#chart").append("svg")
  .attr("width", width).attr("height", height)
  .attr("viewBox", "0 0 " + width + " " + height);
const defs = svg.append("defs");

function drawPanel(p) {
  const x = d3.scaleLinear().domain(p.xDomain).range([p.left, p.right]);
  const y = d3.scaleLinear().domain(p.yDomain).range([plotBottom, plotTop]);
  const g = svg.append("g").attr("class", "panel-" + p.id);

  defs.append("clipPath").attr("id", "clip-" + p.id)
    .append("rect").attr("x", p.left).attr("y", plotTop)
    .attr("width", p.right - p.left).attr("height", plotBottom - plotTop);

  g.append("rect").attr("x", p.left).attr("y", plotTop)
    .attr("width", p.right - p.left).attr("height", plotBottom - plotTop)
    .attr("fill", bgColor);

  const body = g.append("g").attr("clip-path", "url(#clip-" + p.id + ")");

  body.append("g").selectAll("circle").data(p.circles).join("circle")
    .attr("cx", d => x(d[0])).attr("cy", d => y(d[1])).attr("r", 4.5)
    .attr("fill", d => colour(d[2]));

  // demarcation lines
  const line = d3.line().x(d => x(d[0])).y(d => y(d[1]));
  p.curves.forEach(c => {
    const pts = d3.range(c.from, c.to, 0.004).concat([c.to])
      .map(v => [v, c.f(v)]).filter(d => d[1] > p.yDomain[0] - 1 && d[1] < p.yDomain[1] + 1);
    body.append("path").attr("d", line(pts)).attr("fill", "none")
      .attr("stroke", "#000").attr("stroke-width", 1)
      .attr("stroke-dasharray", c.dash || null);
  });
  if (p.whan) {
    const l3 = Math.log10(3), l6 = Math.log10(6);
    const segs = [
      [[-0.4, l3], [-0.4, p.yDomain[1]]],
      [[p.xDomain[0], l3], [p.xDomain[1], l3]],
      [[-0.4, l6], [p.xDomain[1], l6]]
    ];
    segs.forEach(s => body.append("path").attr("d", line(s))
      .attr("stroke", "#000").attr("stroke-width", 1.5).attr("fill", "none"));
  }

  // region names
  p.notes.forEach(n => g.append("text").attr("x", x(n[1])).attr("y", y(n[2]))
    .attr("font-size", 21).text(n[0]));

  // class markers
  p.groups.forEach((pts, i) => {
    const st = markerStyles[i];
    body.append("g").selectAll("path").data(pts).join("path")
      .attr("d", d3.symbol().type(st.type).size(st.size))
      .attr("transform", d => "translate(" + x(d[0]) + "," + y(d[1]) + ")")
      .attr("fill", st.fill).attr("stroke", "#000").attr("stroke-width", 0.8);
  });

  // inward ticks on all four sides
  const xMinorVals = stepTicks(p.xDomain, p.xMinor);
  const yMajorVals = stepTicks(p.yDomain, p.yMajor);
  const yMinorVals = stepTicks(p.yDomain, p.yMinor);
  const tickSets = [
    [d3.axisBottom(x), "translate(0," + plotBottom + ")", p.xMajor, xMinorVals],
    [d3.axisTop(x), "translate(0," + plotTop + ")", p.xMajor, xMinorVals],
    [d3.axisLeft(y), "translate(" + p.left + ",0)", yMajorVals, yMinorVals],
    [d3.axisRight(y), "translate(" + p.right + ",0)", yMajorVals, yMinorVals]
  ];
  tickSets.forEach(([axis, tr, major, minor]) => {
    [[minor, 7], [major, 14]].forEach(([vals, len]) => {
      g.append("g").attr("transform", tr)
        .call(axis.tickValues(vals).tickSize(-len).tickFormat(""))
        .call(s => s.select(".domain").remove())
        .call(s => s.selectAll("line").attr("stroke", "#000").attr("stroke-width", 1));
    });
  });

  g.append("rect").attr("x", p.left).attr("y", plotTop)
    .attr("width", p.right - p.left).attr("height", plotBottom - plotTop)
    .attr("fill", "none").attr("stroke", "#000").attr("stroke-width", 1);

  // tick labels
  g.append("g").selectAll("text").data(p.xMajor).join("text")
    .attr("x", d => x(d)).attr("y", 435).attr("text-anchor", "middle")
    .attr("font-size", 19).text(d3.format("d"));

  const xl = g.append("text").attr("x", (p.left + p.right) / 2).attr("y", 464)
    .attr("text-anchor", "middle").attr("font-size", 21);
  xl.append("tspan").text(p.xLabel[0]);
  xl.append("tspan").attr("font-style", "italic").text(p.xLabel[1]);

  if (p.yLabels) {
    g.append("g").selectAll("text").data(yMajorVals).join("text")
      .attr("transform", d => "translate(62," + y(d) + ") rotate(-90)")
      .attr("text-anchor", "middle").attr("font-size", 19).text(d3.format(".1f"));
    const yl = g.append("text")
      .attr("transform", "translate(28," + (plotTop + plotBottom) / 2 + ") rotate(-90)")
      .attr("text-anchor", "middle").attr("font-size", 21);
    yl.append("tspan").text("log [OIII]/H");
    yl.append("tspan").attr("font-style", "italic").text("β");
  }
  if (p.whan) {
    g.append("g").selectAll("text").data(yMajorVals).join("text")
      .attr("transform", d => "translate(994," + y(d) + ") rotate(-90)")
      .attr("text-anchor", "middle").attr("font-size", 19).text(d3.format("d"));
  }
}

panels.forEach(drawPanel);

// ---- colour bar ----
const cb = {left: 1304, right: 1319};
const cbScale = d3.scaleLinear().domain(wRange).range([plotBottom, plotTop]);
const grad = defs.append("linearGradient").attr("id", "cbGrad")
  .attr("x1", "0%").attr("y1", "100%").attr("x2", "0%").attr("y2", "0%");
d3.range(0, 1.0001, 0.05).forEach(t => grad.append("stop")
  .attr("offset", (t * 100) + "%").attr("stop-color", d3.interpolateRdYlBu(t)));
const cbg = svg.append("g").attr("class", "colorbar");
cbg.append("rect").attr("x", cb.left).attr("y", plotTop)
  .attr("width", cb.right - cb.left).attr("height", plotBottom - plotTop)
  .attr("fill", "url(#cbGrad)");
[[stepTicks(wRange, 0.25), 7], [whanCbTicks, 14]].forEach(([vals, len]) => {
  cbg.append("g").attr("transform", "translate(" + cb.right + ",0)")
    .call(d3.axisRight(cbScale).tickValues(vals).tickSize(-len).tickFormat(""))
    .call(s => s.select(".domain").remove())
    .call(s => s.selectAll("line").attr("stroke", "#000"));
});
cbg.append("rect").attr("x", cb.left).attr("y", plotTop)
  .attr("width", cb.right - cb.left).attr("height", plotBottom - plotTop)
  .attr("fill", "none").attr("stroke", "#000").attr("stroke-width", 1);
cbg.append("g").selectAll("text").data(whanCbTicks).join("text")
  .attr("transform", d => "translate(1345," + cbScale(d) + ") rotate(-90)")
  .attr("text-anchor", "middle").attr("font-size", 19).text(d3.format("d"));
const cbl = cbg.append("text")
  .attr("transform", "translate(1367," + (plotTop + plotBottom) / 2 + ") rotate(-90)")
  .attr("text-anchor", "middle").attr("font-size", 21);
cbl.append("tspan").text("log |W");
cbl.append("tspan").attr("font-size", 14).attr("dy", 4).text(" H");
cbl.append("tspan").attr("font-size", 14).attr("font-style", "italic").text("α");
cbl.append("tspan").attr("dy", -4).text("|");

// ---- legend ----
const legendX = [105, 280, 458, 614, 758];
const legend = svg.append("g").attr("class", "legend");
classNames.forEach((name, i) => {
  const st = markerStyles[i];
  legend.append("path")
    .attr("d", d3.symbol().type(st.type).size(st.size * 0.85))
    .attr("transform", "translate(" + legendX[i] + ",16)")
    .attr("fill", st.fill).attr("stroke", "#000").attr("stroke-width", 0.8);
  legend.append("text").attr("x", legendX[i] + 39).attr("y", 24)
    .attr("font-size", 21).text(name);
});
</script>
</body>
</html>
